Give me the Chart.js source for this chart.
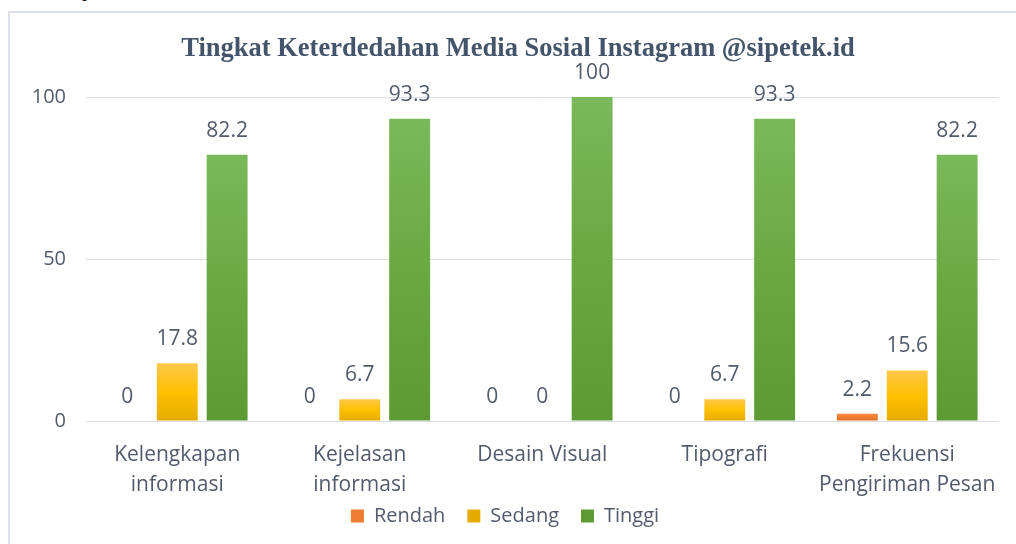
<!DOCTYPE html>
<html>
<head>
<meta charset="utf-8">
<script src="https://cdn.jsdelivr.net/npm/chart.js@4.4.1/dist/chart.umd.min.js"></script>
<style>
  html, body { margin: 0; padding: 0; background: #fff; }
  body { width: 1016px; height: 544px; position: relative; overflow: hidden; }
  .frame {
    position: absolute; left: 8px; top: 11px; width: 1020px; height: 560px;
    border: 2px solid #dde2ea; box-sizing: border-box;
  }
  .cut { position: absolute; left: 82px; top: -22px; font: 20px "Liberation Serif", serif; color: #000; }
  #wrap { position: absolute; left: 0; top: 0; width: 1016px; height: 544px; }
</style>
</head>
<body>
<div class="cut">p</div>
<div class="frame"></div>
<div id="wrap"><canvas id="c"></canvas></div>
<script>
// Tingkat keterdedahan — three levels per aspect, values in percent.
const chartTitle = "Tingkat Keterdedahan Media Sosial Instagram @sipetek.id";
const categories = [
  ["Kelengkapan", "informasi"],
  ["Kejelasan", "informasi"],
  "Desain Visual",
  "Tipografi",
  ["Frekuensi", "Pengiriman Pesan"],
];
const rendah = [0, 0, 0, 0, 2.2];
const sedang = [17.8, 6.7, 0, 6.7, 15.6];
const tinggi = [82.2, 93.3, 100, 93.3, 82.2];
const yTicks = [0, 50, 100];

const TEXT = "#515b6b";
const FONT = "'Open Sans', 'DejaVu Sans', sans-serif";

// per-bar vertical gradient, lighter at the top like the Office fill
function barFill(top, mid, bottom) {
  return (ctx) => {
    const chart = ctx.chart;
    const y = chart.scales && chart.scales.y;
    if (!y || !ctx.parsed || ctx.type !== "data") return mid;
    const y0 = y.getPixelForValue(0);
    const y1 = y.getPixelForValue(ctx.parsed.y);
    if (!isFinite(y0) || !isFinite(y1) || Math.abs(y0 - y1) < 1) return mid;
    const g = chart.ctx.createLinearGradient(0, y1, 0, y0);
    g.addColorStop(0, top);
    g.addColorStop(0.5, mid);
    g.addColorStop(1, bottom);
    return g;
  };
}

// values above each bar, plus the title (the built-in one can't sit off-centre)
const valueLabels = {
  id: "valueLabels",
  afterDatasetsDraw(chart) {
    const c = chart.ctx;
    c.save();
    c.font = "21px " + FONT;
    c.fillStyle = TEXT;
    c.textAlign = "center";
    c.textBaseline = "alphabetic";
    chart.data.datasets.forEach((ds, i) => {
      chart.getDatasetMeta(i).data.forEach((bar, j) => {
        c.fillText(String(ds.data[j]), bar.x, bar.y - 18);
      });
    });
    c.font = "bold 26.5px 'Liberation Serif', serif";
    c.fillStyle = "#44546a";
    c.textBaseline = "middle";
    c.fillText(chartTitle, 518, 49);
    c.restore();
  },
};

new Chart(document.getElementById("c"), {
  type: "bar",
  data: {
    labels: categories,
    datasets: [
      { label: "Rendah", data: rendah, backgroundColor: barFill("#f58a3f", "#ed7d31", "#de6e20") },
      { label: "Sedang", data: sedang, backgroundColor: barFill("#ffc84a", "#ffc000", "#e5ab00") },
      { label: "Tinggi", data: tinggi, backgroundColor: barFill("#7ab95a", "#6aa841", "#5d9a34") },
    ],
  },
  options: {
    responsive: true,
    maintainAspectRatio: false,
    animation: false,
    devicePixelRatio: 1,
    layout: { padding: { left: 10, right: 16, top: 97, bottom: 8 } },
    datasets: { bar: { categoryPercentage: 0.82, barPercentage: 0.82 } },
    plugins: {
      tooltip: { enabled: false },
      title: { display: false },
      legend: {
        position: "bottom",
        labels: {
          color: TEXT,
          font: { family: FONT, size: 20 },
          boxWidth: 13, boxHeight: 13,
          padding: 22,
        },
      },
    },
    scales: {
      x: {
        grid: { display: false, drawTicks: false },
        border: { display: false },
        // axis box is kept short so the plot stays tall; let the 2nd label line spill over
        afterFit: (axis) => { axis.height = 63; axis._computeLabelArea = () => null; },
        ticks: { color: TEXT, font: { family: FONT, size: 21, lineHeight: 1.43 }, padding: 19, maxRotation: 0, autoSkip: false },
      },
      y: {
        min: 0, max: 100,
        afterBuildTicks: (axis) => { axis.ticks = yTicks.map((v) => ({ value: v })); },
        afterFit: (axis) => { axis.width = 76; },
        grid: { color: "#d9dee8", lineWidth: 1, drawTicks: false },
        border: { display: false },
        ticks: { color: TEXT, font: { family: FONT, size: 20 }, padding: 20 },
      },
    },
  },
  plugins: [valueLabels],
});
</script>
</body>
</html>
